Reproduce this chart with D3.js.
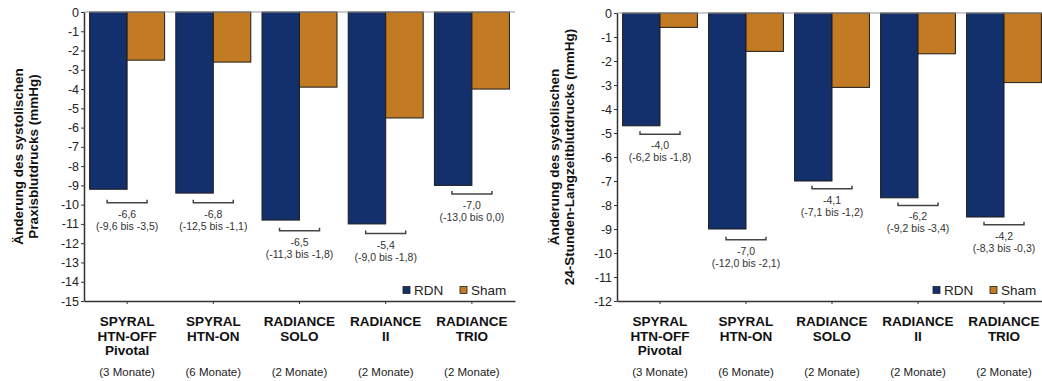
<!DOCTYPE html>
<html>
<head>
<meta charset="utf-8">
<script src="https://cdn.jsdelivr.net/npm/d3@7"></script>
<style>
  html, body { margin: 0; padding: 0; background: #fff; }
  svg { display: block; font-family: "Liberation Sans", Arial, sans-serif; }
</style>
</head>
<body>
<svg id="chart" width="1042" height="381"></svg>
<script>
// studies (x categories), multi-line labels
const studyLines = [
  ["SPYRAL", "HTN-OFF", "Pivotal"],
  ["SPYRAL", "HTN-ON"],
  ["RADIANCE", "SOLO"],
  ["RADIANCE", "II"],
  ["RADIANCE", "TRIO"]
];
const followUp = ["(3 Monate)", "(6 Monate)", "(2 Monate)", "(2 Monate)", "(2 Monate)"];
const series = ["RDN", "Sham"];

// left: office systolic BP
const officeRDN = [-9.2, -9.4, -10.8, -11.0, -9.0];
const officeSham = [-2.5, -2.6, -3.9, -5.5, -4.0];
const officeDiff = ["-6,6", "-6,8", "-6,5", "-5,4", "-7,0"];
const officeCI = ["(-9,6 bis -3,5)", "(-12,5 bis -1,1)", "(-11,3 bis -1,8)", "(-9,0 bis -1,8)", "(-13,0 bis 0,0)"];
const officeBracket = [-9.9, -9.9, -11.35, -11.5, -9.45];
const officeTicks = [0, -1, -2, -3, -4, -5, -6, -7, -8, -9, -10, -11, -12, -13, -14, -15];

// right: 24h ambulatory systolic BP
const ambRDN = [-4.7, -9.0, -7.0, -7.7, -8.5];
const ambSham = [-0.6, -1.6, -3.1, -1.7, -2.9];
const ambDiff = ["-4,0", "-7,0", "-4,1", "-6,2", "-4,2"];
const ambCI = ["(-6,2 bis -1,8)", "(-12,0 bis -2,1)", "(-7,1 bis -1,2)", "(-9,2 bis -3,4)", "(-8,3 bis -0,3)"];
const ambBracket = [-5.05, -9.45, -7.32, -8.02, -8.82];
const ambTicks = [0, -1, -2, -3, -4, -5, -6, -7, -8, -9, -10, -11, -12];

const colors = { RDN: "#14306c", Sham: "#c27a23" };

const svg = d3.select("#chart");

function drawPanel(cfg) {
  const g = svg.append("g").attr("transform", `translate(${cfg.left},${cfg.top})`);
  const w = cfg.width, h = cfg.height;

  const y = d3.scaleLinear().domain([0, cfg.min]).range([0, h]);
  const x0 = d3.scaleBand().domain(d3.range(studyLines.length)).range([0, w])
    .paddingInner(0.13).paddingOuter(0.065);
  const x1 = d3.scaleBand().domain(series).range([0, x0.bandwidth()]);

  // bars
  const rows = d3.range(studyLines.length).map(i => ({ i, RDN: cfg.rdn[i], Sham: cfg.sham[i] }));
  const grp = g.selectAll("g.grp").data(rows).join("g")
    .attr("transform", d => `translate(${x0(d.i)},0)`);
  grp.selectAll("rect").data(d => series.map(s => ({ s, v: d[s] }))).join("rect")
    .attr("x", d => x1(d.s))
    .attr("y", y(0))
    .attr("width", x1.bandwidth())
    .attr("height", d => y(d.v) - y(0))
    .attr("fill", d => colors[d.s])
    .attr("stroke", "#1c1c1c")
    .attr("stroke-width", 1);

  // zero line
  g.append("line").attr("x1", 0).attr("x2", w).attr("y1", y(0)).attr("y2", y(0))
    .attr("stroke", "#9a9a9a").attr("stroke-width", 1.2);

  // y axis
  const yAxis = g.append("g").call(d3.axisLeft(y).tickValues(cfg.ticks).tickSize(3).tickSizeOuter(0)
    .tickFormat(d3.format("d")));
  yAxis.select(".domain").attr("stroke", "#333").attr("stroke-width", 1.5);
  yAxis.selectAll(".tick line").attr("stroke", "#333");
  yAxis.selectAll("text").attr("font-size", 12.5).attr("fill", "#222").attr("x", -5)
    .text(d => d === 0 ? "0" : String(d));

  // x axis at bottom
  const xc = d3.scaleOrdinal().domain(d3.range(studyLines.length))
    .range(d3.range(studyLines.length).map(i => x0(i) + x0.bandwidth() / 2));
  const xAxis = g.append("g").attr("transform", `translate(0,${h})`)
    .call(d3.axisBottom(x0).tickSize(3).tickSizeOuter(0).tickFormat(""));
  xAxis.select(".domain").attr("stroke", "#333").attr("stroke-width", 1.5);
  xAxis.selectAll(".tick line").attr("stroke", "#333");

  // category labels
  studyLines.forEach((lines, i) => {
    const cx = xc(i);
    lines.forEach((t, k) => {
      g.append("text").attr("x", cx).attr("y", h + 25 + k * 14.5)
        .attr("text-anchor", "middle").attr("font-size", 13.5).attr("font-weight", "bold")
        .attr("fill", "#111").text(t);
    });
    g.append("text").attr("x", cx).attr("y", h + 75)
      .attr("text-anchor", "middle").attr("font-size", 11.5).attr("fill", "#222").text(followUp[i]);
  });

  // difference brackets + labels
  cfg.bracket.forEach((b, i) => {
    const cx = xc(i), by = y(b);
    g.append("path")
      .attr("d", `M${cx - 20},${by - 3}V${by}H${cx + 20}V${by - 3}`)
      .attr("fill", "none").attr("stroke", "#444").attr("stroke-width", 1.5);
    g.append("text").attr("x", cx).attr("y", by + 15).attr("text-anchor", "middle")
      .attr("font-size", 10.5).attr("fill", "#333").text(cfg.diff[i]);
    g.append("text").attr("x", cx).attr("y", by + 27).attr("text-anchor", "middle")
      .attr("font-size", 10.5).attr("fill", "#333").text(cfg.ci[i]);
  });

  // y title
  const tg = g.append("g").attr("transform", `translate(${cfg.titleX},${h / 2}) rotate(-90)`);
  cfg.title.forEach((t, k) => {
    tg.append("text").attr("x", 0).attr("y", k * 14.5).attr("text-anchor", "middle")
      .attr("font-size", 13.5).attr("font-weight", "bold").attr("fill", "#111").text(t);
  });

  // legend
  const lg = g.append("g").attr("transform", `translate(${cfg.legendX},${h - 11})`);
  let lx = 0;
  series.forEach(s => {
    lg.append("rect").attr("x", lx).attr("y", -3.5).attr("width", 7).attr("height", 7)
      .attr("fill", colors[s]).attr("stroke", "#222").attr("stroke-width", 0.8);
    lg.append("text").attr("x", lx + 11).attr("y", 5).attr("font-size", 13.5)
      .attr("fill", "#222").text(s);
    lx += 57;
  });
}

drawPanel({
  left: 84, top: 12, width: 431, height: 289, min: -15,
  rdn: officeRDN, sham: officeSham, diff: officeDiff, ci: officeCI,
  bracket: officeBracket, ticks: officeTicks,
  title: ["Änderung des systolischen", "Praxisblutdrucks (mmHg)"],
  titleX: -61, legendX: 319
});

drawPanel({
  left: 617, top: 13, width: 430, height: 288, min: -12,
  rdn: ambRDN, sham: ambSham, diff: ambDiff, ci: ambCI,
  bracket: ambBracket, ticks: ambTicks,
  title: ["Änderung des systolischen", "24-Stunden-Langzeitblutdrucks (mmHg)"],
  titleX: -58, legendX: 316
});
</script>
</body>
</html>
